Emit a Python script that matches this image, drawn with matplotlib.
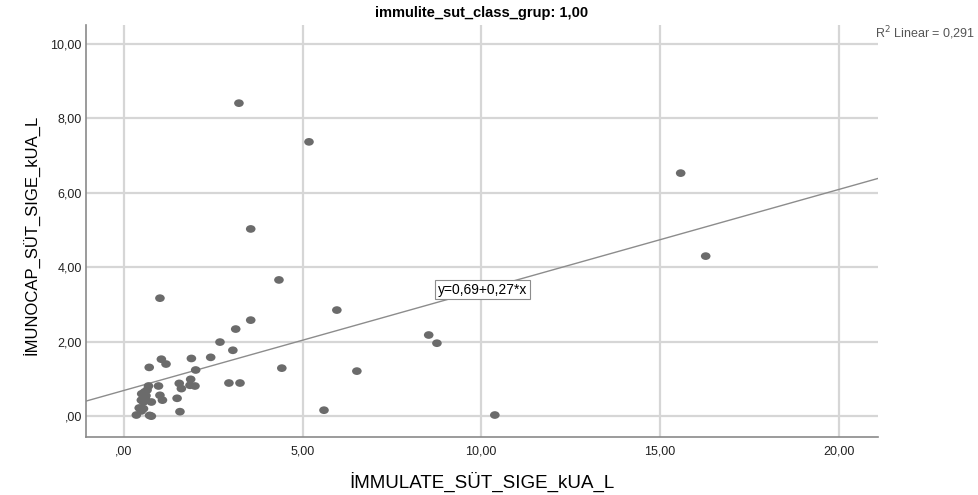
import matplotlib
matplotlib.use("Agg")
import matplotlib.pyplot as plt
import numpy as np
from matplotlib.path import Path
from matplotlib.transforms import Affine2D

plt.rcParams['font.family'] = ['Liberation Sans', 'DejaVu Sans']

# values
immulate = [3.22, 5.18, 15.58, 16.28, 3.55, 4.34, 1.01, 5.96, 3.55, 3.13,
            8.53, 2.69, 8.76, 3.05, 2.43, 1.89, 1.05, 1.18, 0.71, 4.42,
            2.01, 6.52, 2.94, 3.25, 5.60, 10.38,
            1.87, 1.55, 1.85, 1.99, 1.61, 0.97, 0.69, 0.58, 0.50, 0.62,
            1.01, 1.08, 0.77, 0.49, 0.60, 0.43, 0.35, 0.49, 0.55, 0.77,
            0.72, 1.57, 1.49, 0.65, 0.55]
imunocap = [8.41, 7.37, 6.53, 4.30, 5.03, 3.66, 3.17, 2.85, 2.58, 2.34,
            2.18, 1.99, 1.96, 1.77, 1.58, 1.55, 1.53, 1.40, 1.31, 1.29,
            1.24, 1.21, 0.89, 0.89, 0.16, 0.03,
            0.99, 0.88, 0.83, 0.81, 0.74, 0.81, 0.81, 0.65, 0.60, 0.55,
            0.56, 0.43, 0.38, 0.43, 0.47, 0.22, 0.03, 0.14, 0.20, 0.00,
            0.02, 0.12, 0.48, 0.70, 0.38]

intercept = 0.69
slope = 0.27
r2 = 0.291

xticks = [0, 5, 10, 15, 20]
xticklabels = [',00', '5,00', '10,00', '15,00', '20,00']
yticks = [0, 2, 4, 6, 8, 10]
yticklabels = [',00', '2,00', '4,00', '6,00', '8,00', '10,00']

fig = plt.figure(figsize=(9.79, 4.95), dpi=100)
ax = fig.add_axes([0.0878, 0.1172, 0.809, 0.8323])

xlim = (-1.06, 21.1)
ylim = (-0.56, 10.51)

# slightly wide dots like SPSS
ell = Path.unit_circle().transformed(Affine2D().scale(1.25, 1.0))
ax.scatter(immulate, imunocap, s=48, marker=ell, color='#6b6b6b',
           edgecolors='none', zorder=3)

lx = np.array(xlim)
ax.plot(lx, intercept + slope * lx, color='#8c8c8c', lw=1, zorder=2)

ax.text(10.04, intercept + slope * 10.04, 'y=0,69+0,27*x', fontsize=10,
        ha='center', va='center', zorder=4,
        bbox=dict(boxstyle='square,pad=0.2', fc='white', ec='#8c8c8c', lw=0.8))

ax.set_xlim(xlim)
ax.set_ylim(ylim)
ax.set_xticks(xticks)
ax.set_xticklabels(xticklabels)
ax.set_yticks(yticks)
ax.set_yticklabels(yticklabels)
ax.tick_params(length=0, labelsize=9, colors='#222222')
ax.tick_params(axis='x', pad=6)
ax.tick_params(axis='y', pad=3)
ax.grid(True, color='#d6d6d6', lw=1.6)
ax.set_axisbelow(True)
for s in ['top', 'right']:
    ax.spines[s].set_visible(False)
for s in ['left', 'bottom']:
    ax.spines[s].set_color('#8a8a8a')
    ax.spines[s].set_linewidth(1.2)

ax.set_xlabel('İMMULATE_SÜT_SIGE_kUA_L', fontsize=13.5)
ax.xaxis.set_label_coords(0.5, -0.085)
ax.set_ylabel('İMUNOCAP_SÜT_SIGE_kUA_L', fontsize=12)
ax.yaxis.set_label_coords(-0.058, 0.49)
ax.set_title('immulite_sut_class_grup: 1,00', fontsize=10.5, fontweight='bold',
             pad=6)

fig.text(0.8938, 0.9333, 'R$^2$ Linear = ' + f'{r2:.3f}'.replace('.', ','),
         fontsize=9, color='#555555', ha='left', va='center')

fig.savefig('out.png', dpi=100)
